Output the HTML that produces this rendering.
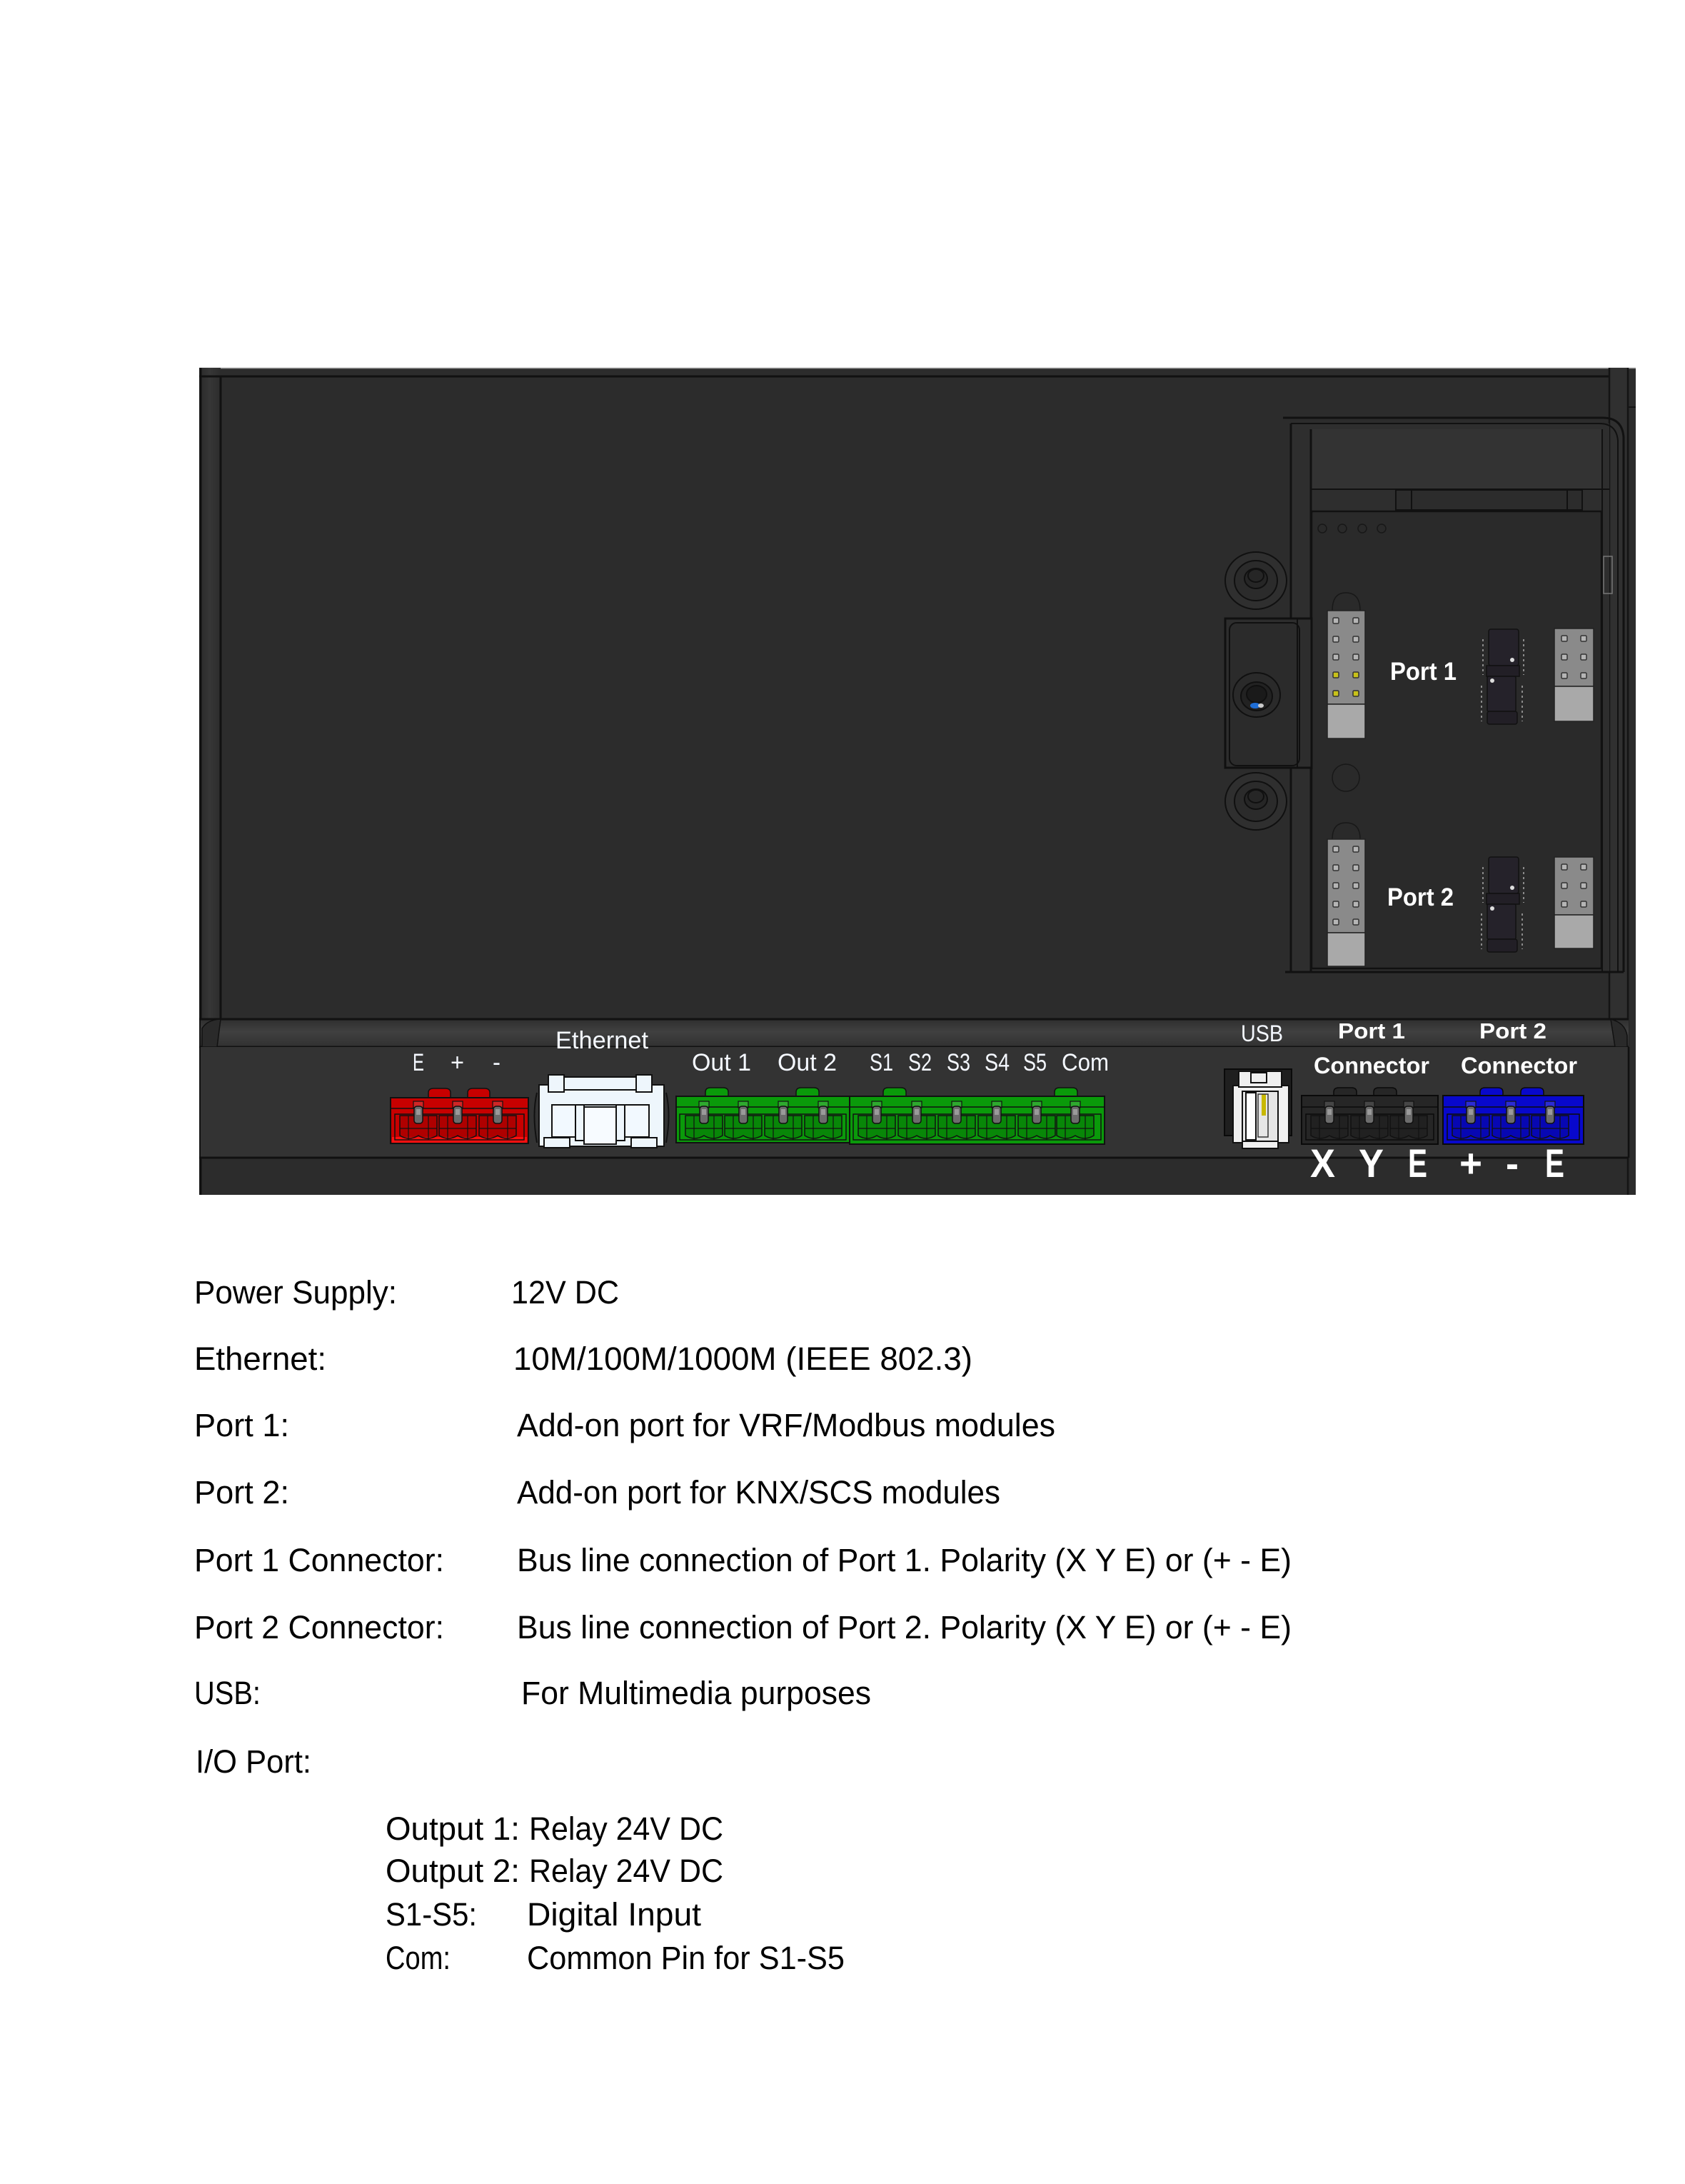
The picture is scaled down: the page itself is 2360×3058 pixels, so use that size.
<!DOCTYPE html>
<html><head><meta charset="utf-8"><style>
html,body{margin:0;padding:0;background:#fff}
svg{display:block}
text{font-family:"Liberation Sans",sans-serif}
</style></head><body>
<svg width="2360" height="3058" viewBox="0 0 2360 3058" xmlns="http://www.w3.org/2000/svg">
<defs>
<linearGradient id="ledge" x1="0" y1="0" x2="0" y2="1">
<stop offset="0" stop-color="#2e2e2e"/><stop offset="0.45" stop-color="#404040"/><stop offset="1" stop-color="#313131"/>
</linearGradient>
<linearGradient id="lstrip" x1="0" y1="0" x2="1" y2="0">
<stop offset="0" stop-color="#2a2a2a"/><stop offset="0.5" stop-color="#363636"/><stop offset="1" stop-color="#2c2c2c"/>
</linearGradient>
<g id="pin">
<path d="M-26 1562 H26 V1590 Q13 1598 0 1590 Q-13 1598 -26 1590 Z" fill="rgba(0,0,0,0.12)" stroke="#111" stroke-width="1.5"/>
<line x1="-14" y1="1562" x2="-14" y2="1596" stroke="#111" stroke-width="1.2"/>
<line x1="14" y1="1562" x2="14" y2="1596" stroke="#111" stroke-width="1.2"/>
<line x1="-26" y1="1580" x2="26" y2="1580" stroke="#111" stroke-width="1.2"/>
<rect x="-7" y="1542" width="14" height="9" fill="rgba(255,255,255,0.15)" stroke="#111" stroke-width="1.2"/>
<rect x="-6" y="1549" width="12" height="24" rx="4" fill="#6c6c6c" stroke="#111" stroke-width="1.5"/>
<rect x="-3" y="1553" width="6" height="8" fill="#9a9a9a"/>
</g>
<g id="hpin"><rect x="-4" y="-4" width="8" height="8" rx="1.5" fill="#b5b5b5" stroke="#333" stroke-width="1.5"/></g>
<g id="ypin"><rect x="-4" y="-4" width="8" height="8" rx="1.5" fill="#c8c21a" stroke="#333" stroke-width="1.5"/></g>
</defs>

<!-- device body -->
<rect x="279" y="515" width="2012" height="1158" fill="#2c2c2c"/>
<line x1="279" y1="515.5" x2="2291" y2="515.5" stroke="#9a9a9a" stroke-width="1.5"/>
<rect x="279" y="515" width="30" height="912" fill="url(#lstrip)"/>
<line x1="281" y1="515" x2="281" y2="1673" stroke="#111" stroke-width="3"/>
<line x1="309" y1="527" x2="309" y2="1427" stroke="#111" stroke-width="3"/>
<line x1="279" y1="527" x2="2254" y2="527" stroke="#111" stroke-width="3"/>
<rect x="2254" y="515" width="26" height="912" fill="#303030"/>
<line x1="2254" y1="515" x2="2254" y2="1427" stroke="#141414" stroke-width="2.5"/>
<line x1="2280" y1="515" x2="2280" y2="1673" stroke="#141414" stroke-width="2.5"/>
<line x1="2280" y1="570" x2="2291" y2="570" stroke="#141414" stroke-width="2"/>

<!-- module frame -->
<rect x="1808" y="593" width="446" height="768" fill="#2e2e2e"/>
<path d="M1797 585 H2245 Q2272 585 2274 612 V1361" fill="none" stroke="#111" stroke-width="3"/>
<path d="M1808 593 H2240 Q2264 593 2266 617 V1361" fill="none" stroke="#111" stroke-width="2"/>
<rect x="1836" y="601" width="407" height="84" fill="#333"/>
<line x1="1836" y1="685" x2="2254" y2="685" stroke="#111" stroke-width="2"/>
<rect x="1955" y="686" width="261" height="28" fill="#2c2c2c" stroke="#111" stroke-width="2"/>
<line x1="1977" y1="686" x2="1977" y2="714" stroke="#111" stroke-width="2"/>
<line x1="2195" y1="686" x2="2195" y2="714" stroke="#111" stroke-width="2"/>
<rect x="1837" y="716" width="406" height="640" fill="#2a2a2a" stroke="#111" stroke-width="2.5"/>
<line x1="1808" y1="593" x2="1808" y2="1361" stroke="#111" stroke-width="3"/>
<line x1="1836" y1="601" x2="1836" y2="1361" stroke="#111" stroke-width="3"/>
<line x1="1800" y1="1361" x2="2274" y2="1361" stroke="#111" stroke-width="3"/>
<line x1="2244" y1="601" x2="2244" y2="1361" stroke="#111" stroke-width="2"/>
<rect x="2246" y="779" width="12" height="52" fill="none" stroke="#777" stroke-width="1.5"/>
<!-- small leds -->
<g fill="none" stroke="#181818" stroke-width="1.5">
<circle cx="1852" cy="740" r="6"/><circle cx="1880" cy="740" r="6"/><circle cx="1908" cy="740" r="6"/><circle cx="1935" cy="740" r="6"/>
<circle cx="1885" cy="1089" r="19"/>
<path d="M1866 855 Q1866 830 1885 830 Q1905 830 1905 855"/>
<path d="M1866 1175 Q1866 1152 1885 1152 Q1905 1152 1905 1175"/>
</g>

<!-- grommets & bracket -->
<g stroke="#101010" stroke-width="2">
<ellipse cx="1759" cy="813" rx="43" ry="40" fill="#2f2f2f"/>
<ellipse cx="1759" cy="813" rx="30" ry="28" fill="#2b2b2b"/>
<ellipse cx="1759" cy="810" rx="16" ry="14" fill="#262626"/>
<ellipse cx="1759" cy="806" rx="11" ry="9" fill="none"/>
<ellipse cx="1759" cy="1122" rx="43" ry="40" fill="#2f2f2f"/>
<ellipse cx="1759" cy="1122" rx="30" ry="28" fill="#2b2b2b"/>
<ellipse cx="1759" cy="1119" rx="16" ry="14" fill="#262626"/>
<ellipse cx="1759" cy="1115" rx="11" ry="9" fill="none"/>
<rect x="1716" y="866" width="121" height="209" fill="#2d2d2d" stroke-width="3"/>
<rect x="1722" y="872" width="98" height="200" rx="10" fill="#2b2b2b"/>
<line x1="1817" y1="866" x2="1817" y2="1075"/>
<ellipse cx="1760" cy="973" rx="33" ry="31" fill="#2a2a2a"/>
<ellipse cx="1760" cy="975" rx="22" ry="20" fill="#222"/>
<ellipse cx="1760" cy="972" rx="14" ry="12" fill="#1a1a1a"/>
</g>
<ellipse cx="1758" cy="988" rx="7" ry="4" fill="#1f6ed6"/>
<ellipse cx="1766" cy="988" rx="4" ry="3" fill="#ccc"/>

<!-- Port 1 headers -->
<rect x="1859" y="855" width="53" height="131" fill="#8a8a8a" stroke="#222" stroke-width="1.5"/>
<rect x="1859" y="986" width="53" height="48" fill="#a9a9a9" stroke="#222" stroke-width="1.5"/>
<use href="#hpin" x="1871" y="869"/><use href="#hpin" x="1899" y="869"/>
<use href="#hpin" x="1871" y="895"/><use href="#hpin" x="1899" y="895"/>
<use href="#hpin" x="1871" y="920"/><use href="#hpin" x="1899" y="920"/>
<use href="#ypin" x="1871" y="945"/><use href="#ypin" x="1899" y="945"/>
<use href="#ypin" x="1871" y="971"/><use href="#ypin" x="1899" y="971"/>
<rect x="2177" y="880" width="55" height="81" fill="#8a8a8a" stroke="#222" stroke-width="1.5"/>
<rect x="2177" y="961" width="55" height="49" fill="#a9a9a9" stroke="#222" stroke-width="1.5"/>
<use href="#hpin" x="2191" y="894"/><use href="#hpin" x="2218" y="894"/>
<use href="#hpin" x="2191" y="920"/><use href="#hpin" x="2218" y="920"/>
<use href="#hpin" x="2191" y="946"/><use href="#hpin" x="2218" y="946"/>
<!-- chip 1 -->
<g stroke="#111" stroke-width="1.5">
<rect x="2085" y="881" width="42" height="51" rx="3" fill="#25222a"/>
<rect x="2082" y="932" width="46" height="15" fill="#221f26"/>
<rect x="2083" y="947" width="40" height="49" rx="2" fill="#25222a"/>
<rect x="2083" y="996" width="42" height="18" rx="3" fill="#221f26"/>
</g>
<g stroke="#8a8a8a" stroke-width="2" stroke-dasharray="3 4">
<line x1="2077" y1="895" x2="2077" y2="945"/><line x1="2134" y1="895" x2="2134" y2="945"/>
<line x1="2075" y1="960" x2="2075" y2="1010"/><line x1="2132" y1="960" x2="2132" y2="1010"/>
</g>
<circle cx="2118" cy="924" r="3" fill="#ddd"/><circle cx="2090" cy="953" r="3" fill="#ddd"/>

<!-- Port 2 headers -->
<rect x="1859" y="1175" width="53" height="131" fill="#8a8a8a" stroke="#222" stroke-width="1.5"/>
<rect x="1859" y="1306" width="53" height="47" fill="#a9a9a9" stroke="#222" stroke-width="1.5"/>
<use href="#hpin" x="1871" y="1189"/><use href="#hpin" x="1899" y="1189"/>
<use href="#hpin" x="1871" y="1215"/><use href="#hpin" x="1899" y="1215"/>
<use href="#hpin" x="1871" y="1240"/><use href="#hpin" x="1899" y="1240"/>
<use href="#hpin" x="1871" y="1266"/><use href="#hpin" x="1899" y="1266"/>
<use href="#hpin" x="1871" y="1291"/><use href="#hpin" x="1899" y="1291"/>
<rect x="2177" y="1200" width="55" height="81" fill="#8a8a8a" stroke="#222" stroke-width="1.5"/>
<rect x="2177" y="1281" width="55" height="47" fill="#a9a9a9" stroke="#222" stroke-width="1.5"/>
<use href="#hpin" x="2191" y="1214"/><use href="#hpin" x="2218" y="1214"/>
<use href="#hpin" x="2191" y="1240"/><use href="#hpin" x="2218" y="1240"/>
<use href="#hpin" x="2191" y="1266"/><use href="#hpin" x="2218" y="1266"/>
<g stroke="#111" stroke-width="1.5">
<rect x="2085" y="1200" width="42" height="51" rx="3" fill="#25222a"/>
<rect x="2082" y="1251" width="46" height="15" fill="#221f26"/>
<rect x="2083" y="1266" width="40" height="49" rx="2" fill="#25222a"/>
<rect x="2083" y="1315" width="42" height="18" rx="3" fill="#221f26"/>
</g>
<g stroke="#8a8a8a" stroke-width="2" stroke-dasharray="3 4">
<line x1="2077" y1="1214" x2="2077" y2="1264"/><line x1="2134" y1="1214" x2="2134" y2="1264"/>
<line x1="2075" y1="1279" x2="2075" y2="1329"/><line x1="2132" y1="1279" x2="2132" y2="1329"/>
</g>
<circle cx="2118" cy="1243" r="3" fill="#ddd"/><circle cx="2090" cy="1272" r="3" fill="#ddd"/>

<text x="1947" y="952" font-size="35" font-weight="bold" fill="#fff" textLength="93" lengthAdjust="spacingAndGlyphs">Port 1</text>
<text x="1943" y="1268" font-size="35" font-weight="bold" fill="#fff" textLength="93" lengthAdjust="spacingAndGlyphs">Port 2</text>

<!-- ledge & lower panel -->
<rect x="281" y="1427" width="2000" height="39" fill="url(#ledge)"/>
<line x1="279" y1="1427" x2="2281" y2="1427" stroke="#111" stroke-width="3"/>
<line x1="279" y1="1466" x2="2281" y2="1466" stroke="#111" stroke-width="3"/>
<path d="M283 1440 Q290 1428 309 1427 L304 1466 H283 Z" fill="#2a2a2a" stroke="#111" stroke-width="1.5"/>
<path d="M2256 1427 Q2276 1432 2279 1450 V1466 H2262 Z" fill="#2a2a2a" stroke="#111" stroke-width="1.5"/>
<rect x="281" y="1466" width="2000" height="155" fill="#333"/>
<line x1="279" y1="1621" x2="2281" y2="1621" stroke="#111" stroke-width="3"/>
<line x1="2281" y1="1466" x2="2281" y2="1621" stroke="#111" stroke-width="2.5"/>

<!-- red connector -->
<g fill="#c80000" stroke="#111" stroke-width="1.5">
<path d="M600 1538 V1530 Q600 1524 607 1524 H624 Q631 1524 631 1530 V1538 Z"/>
<path d="M655 1538 V1530 Q655 1524 662 1524 H679 Q686 1524 686 1530 V1538 Z"/>
<rect x="547" y="1537" width="193" height="64" stroke-width="2"/>
</g>
<rect x="549" y="1592" width="189" height="8" fill="#ff1010"/>
<line x1="547" y1="1552" x2="740" y2="1552" stroke="#111" stroke-width="1.5"/>
<rect x="553" y="1560" width="181" height="36" fill="none" stroke="#111" stroke-width="1.5"/>
<use href="#pin" x="586"/><use href="#pin" x="641"/><use href="#pin" x="697"/>

<!-- ethernet -->
<g stroke="#111" stroke-width="2" fill="#eef6fc">
<rect x="755" y="1519" width="175" height="86"/>
<rect x="768" y="1505" width="22" height="24"/>
<rect x="891" y="1505" width="22" height="24"/>
<rect x="790" y="1508" width="101" height="18"/>
<rect x="773" y="1547" width="136" height="45" fill="#f2f9ff"/>
<rect x="806" y="1547" width="12" height="50"/>
<rect x="863" y="1547" width="12" height="50"/>
<rect x="818" y="1550" width="45" height="52" fill="#f7fbff"/>
<rect x="762" y="1593" width="36" height="14"/>
<rect x="884" y="1593" width="36" height="14"/>
</g>
<path d="M752 1530 Q745 1560 752 1600" fill="none" stroke="#111" stroke-width="2"/>
<path d="M933 1530 Q940 1560 933 1600" fill="none" stroke="#111" stroke-width="2"/>

<!-- green connector 1 -->
<g fill="#0a9a0a" stroke="#111" stroke-width="1.5">
<path d="M988 1536 V1529 Q988 1523 995 1523 H1013 Q1020 1523 1020 1529 V1536 Z"/>
<path d="M1115 1536 V1529 Q1115 1523 1122 1523 H1140 Q1147 1523 1147 1529 V1536 Z"/>
<rect x="947" y="1535" width="243" height="65" stroke-width="2"/>
</g>
<line x1="947" y1="1550" x2="1190" y2="1550" stroke="#111" stroke-width="1.5"/>
<rect x="952" y="1560" width="233" height="36" fill="none" stroke="#111" stroke-width="1.5"/>
<use href="#pin" x="986"/><use href="#pin" x="1041"/><use href="#pin" x="1097"/><use href="#pin" x="1153"/>
<!-- green connector 2 -->
<g fill="#0a9a0a" stroke="#111" stroke-width="1.5">
<path d="M1237 1536 V1529 Q1237 1523 1244 1523 H1262 Q1269 1523 1269 1529 V1536 Z"/>
<path d="M1477 1536 V1529 Q1477 1523 1484 1523 H1502 Q1509 1523 1509 1529 V1536 Z"/>
<rect x="1190" y="1535" width="357" height="67" stroke-width="2"/>
</g>
<line x1="1190" y1="1550" x2="1547" y2="1550" stroke="#111" stroke-width="1.5"/>
<rect x="1195" y="1560" width="347" height="36" fill="none" stroke="#111" stroke-width="1.5"/>
<use href="#pin" x="1228"/><use href="#pin" x="1284"/><use href="#pin" x="1340"/><use href="#pin" x="1396"/><use href="#pin" x="1452"/><use href="#pin" x="1506"/>

<!-- USB -->
<rect x="1715" y="1497" width="94" height="93" fill="#1f1f1f" stroke="#0a0a0a" stroke-width="2"/>
<g stroke="#111" stroke-width="2" fill="#f0f0f0">
<rect x="1727" y="1520" width="78" height="80"/>
<rect x="1735" y="1500" width="60" height="22"/>
<rect x="1752" y="1502" width="22" height="14"/>
<rect x="1740" y="1528" width="50" height="72" fill="#e6e6e6"/>
<rect x="1745" y="1530" width="14" height="66" fill="#fff"/>
<rect x="1740" y="1598" width="50" height="10"/>
</g>
<rect x="1767" y="1532" width="6" height="30" fill="#c8b800"/>
<rect x="1762" y="1532" width="14" height="60" fill="none" stroke="#333" stroke-width="1.5"/>

<!-- black connector -->
<g fill="#262626" stroke="#0a0a0a" stroke-width="1.5">
<path d="M1868 1536 V1529 Q1868 1523 1875 1523 H1893 Q1900 1523 1900 1529 V1536 Z"/>
<path d="M1924 1536 V1529 Q1924 1523 1931 1523 H1949 Q1956 1523 1956 1529 V1536 Z"/>
<rect x="1823" y="1534" width="191" height="68" stroke-width="2"/>
</g>
<line x1="1823" y1="1550" x2="2014" y2="1550" stroke="#0a0a0a" stroke-width="1.5"/>
<rect x="1829" y="1560" width="179" height="36" fill="none" stroke="#0a0a0a" stroke-width="1.5"/>
<use href="#pin" x="1862"/><use href="#pin" x="1918"/><use href="#pin" x="1973"/>

<!-- blue connector -->
<g fill="#0808cc" stroke="#0a0a0a" stroke-width="1.5">
<path d="M2073 1536 V1529 Q2073 1523 2080 1523 H2098 Q2105 1523 2105 1529 V1536 Z"/>
<path d="M2130 1536 V1529 Q2130 1523 2137 1523 H2155 Q2162 1523 2162 1529 V1536 Z"/>
<rect x="2021" y="1534" width="197" height="68" stroke-width="2"/>
</g>
<line x1="2021" y1="1550" x2="2218" y2="1550" stroke="#0a0a0a" stroke-width="1.5"/>
<rect x="2027" y="1560" width="185" height="36" fill="none" stroke="#0a0a0a" stroke-width="1.5"/>
<use href="#pin" x="2060"/><use href="#pin" x="2116"/><use href="#pin" x="2171"/>

<!-- device labels -->
<g fill="#f4f8ff" font-size="34">
<text x="778" y="1468" textLength="130" lengthAdjust="spacingAndGlyphs">Ethernet</text>
<text x="578" y="1499" textLength="16" lengthAdjust="spacingAndGlyphs">E</text>
<text x="631" y="1499" textLength="19" lengthAdjust="spacingAndGlyphs">+</text>
<text x="690" y="1499" textLength="11" lengthAdjust="spacingAndGlyphs">-</text>
<text x="969" y="1499" textLength="83" lengthAdjust="spacingAndGlyphs">Out 1</text>
<text x="1089" y="1499" textLength="83" lengthAdjust="spacingAndGlyphs">Out 2</text>
<text x="1218" y="1499" textLength="33" lengthAdjust="spacingAndGlyphs">S1</text>
<text x="1272" y="1499" textLength="33" lengthAdjust="spacingAndGlyphs">S2</text>
<text x="1326" y="1499" textLength="33" lengthAdjust="spacingAndGlyphs">S3</text>
<text x="1379" y="1499" textLength="35" lengthAdjust="spacingAndGlyphs">S4</text>
<text x="1433" y="1499" textLength="33" lengthAdjust="spacingAndGlyphs">S5</text>
<text x="1487" y="1499" textLength="66" lengthAdjust="spacingAndGlyphs">Com</text>
<text x="1738" y="1458" font-size="32" textLength="59" lengthAdjust="spacingAndGlyphs">USB</text>
</g>
<g fill="#fff" font-weight="bold">
<text x="1874" y="1454" font-size="31" textLength="94" lengthAdjust="spacingAndGlyphs">Port 1</text>
<text x="2072" y="1454" font-size="31" textLength="94" lengthAdjust="spacingAndGlyphs">Port 2</text>
<text x="1840" y="1503" font-size="32" textLength="162" lengthAdjust="spacingAndGlyphs">Connector</text>
<text x="2046" y="1503" font-size="32" textLength="163" lengthAdjust="spacingAndGlyphs">Connector</text>
<g font-size="56">
<text x="1835" y="1648" textLength="35" lengthAdjust="spacingAndGlyphs">X</text>
<text x="1903" y="1648" textLength="35" lengthAdjust="spacingAndGlyphs">Y</text>
<text x="1972" y="1648" textLength="27" lengthAdjust="spacingAndGlyphs">E</text>
<text x="2044" y="1648" textLength="32" lengthAdjust="spacingAndGlyphs">+</text>
<text x="2109" y="1648" textLength="18" lengthAdjust="spacingAndGlyphs">-</text>
<text x="2164" y="1648" textLength="27" lengthAdjust="spacingAndGlyphs">E</text>
</g>
</g>

<!-- specifications -->
<g fill="#000" font-size="45">
<text x="272" y="1825" textLength="284" lengthAdjust="spacingAndGlyphs">Power Supply:</text>
<text x="716" y="1825" textLength="151" lengthAdjust="spacingAndGlyphs">12V DC</text>
<text x="272" y="1918" textLength="185" lengthAdjust="spacingAndGlyphs">Ethernet:</text>
<text x="719" y="1918" textLength="643" lengthAdjust="spacingAndGlyphs">10M/100M/1000M (IEEE 802.3)</text>
<text x="272" y="2011" textLength="133" lengthAdjust="spacingAndGlyphs">Port 1:</text>
<text x="724" y="2011" textLength="754" lengthAdjust="spacingAndGlyphs">Add-on port for VRF/Modbus modules</text>
<text x="272" y="2105" textLength="133" lengthAdjust="spacingAndGlyphs">Port 2:</text>
<text x="724" y="2105" textLength="677" lengthAdjust="spacingAndGlyphs">Add-on port for KNX/SCS modules</text>
<text x="272" y="2200" textLength="350" lengthAdjust="spacingAndGlyphs">Port 1 Connector:</text>
<text x="724" y="2200" textLength="1085" lengthAdjust="spacingAndGlyphs">Bus line connection of Port 1. Polarity (X Y E) or (+ - E)</text>
<text x="272" y="2294" textLength="350" lengthAdjust="spacingAndGlyphs">Port 2 Connector:</text>
<text x="724" y="2294" textLength="1085" lengthAdjust="spacingAndGlyphs">Bus line connection of Port 2. Polarity (X Y E) or (+ - E)</text>
<text x="272" y="2386" textLength="93" lengthAdjust="spacingAndGlyphs">USB:</text>
<text x="730" y="2386" textLength="490" lengthAdjust="spacingAndGlyphs">For Multimedia purposes</text>
<text x="274" y="2482" textLength="162" lengthAdjust="spacingAndGlyphs">I/O Port:</text>
<text x="540" y="2576" textLength="188" lengthAdjust="spacingAndGlyphs">Output 1:</text>
<text x="741" y="2576" textLength="272" lengthAdjust="spacingAndGlyphs">Relay 24V DC</text>
<text x="540" y="2635" textLength="188" lengthAdjust="spacingAndGlyphs">Output 2:</text>
<text x="741" y="2635" textLength="272" lengthAdjust="spacingAndGlyphs">Relay 24V DC</text>
<text x="540" y="2696" textLength="128" lengthAdjust="spacingAndGlyphs">S1-S5:</text>
<text x="738" y="2696" textLength="244" lengthAdjust="spacingAndGlyphs">Digital Input</text>
<text x="540" y="2757" textLength="91" lengthAdjust="spacingAndGlyphs">Com:</text>
<text x="738" y="2757" textLength="445" lengthAdjust="spacingAndGlyphs">Common Pin for S1-S5</text>
</g>
</svg>
</body></html>
